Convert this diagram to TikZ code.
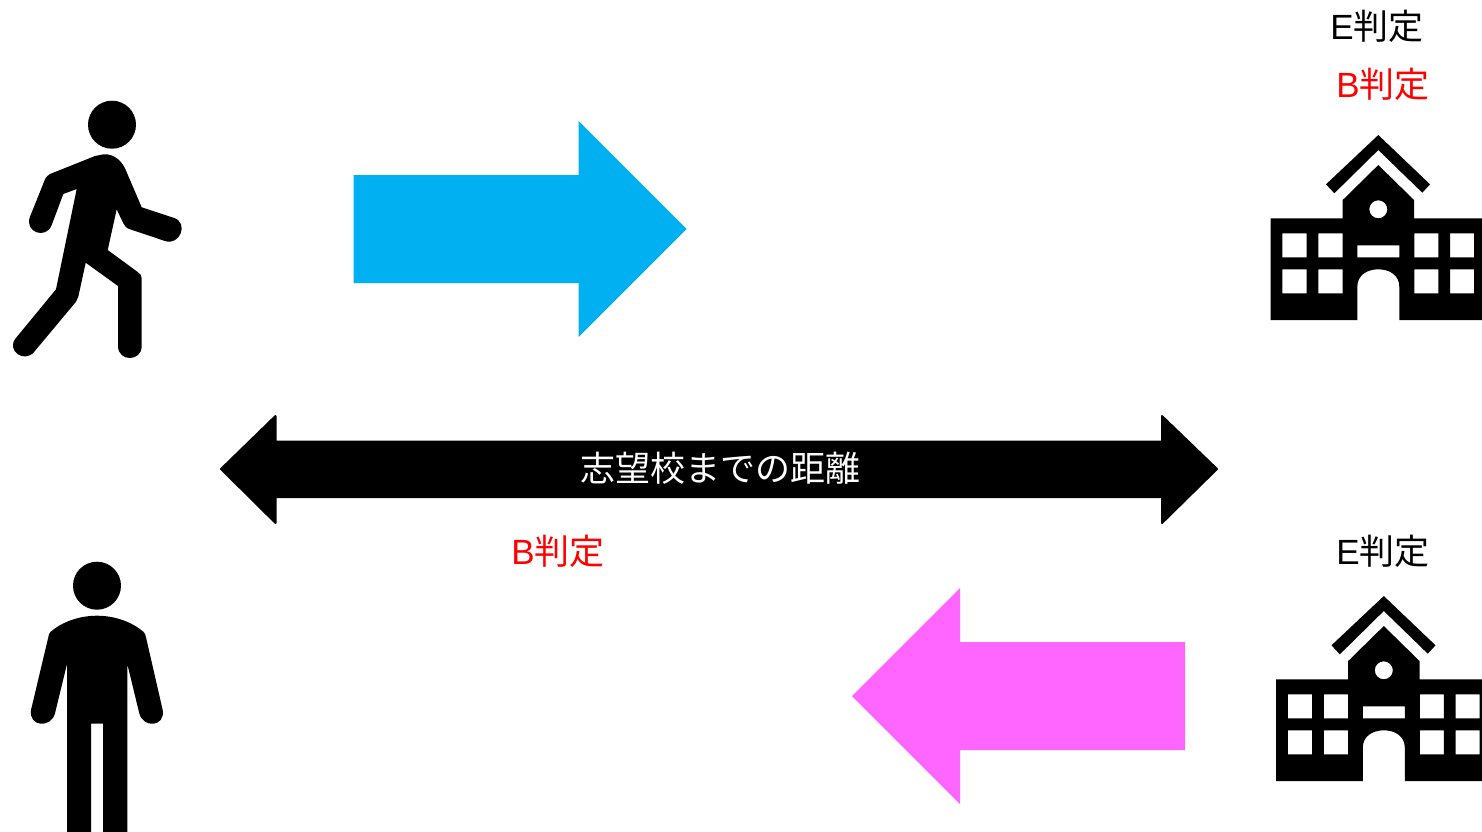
\documentclass[tikz,border=0pt]{standalone}
\usepackage{fontspec}
\usepackage{xcolor}
\usepackage{tikz}
\newfontfamily\jpfont{Noto Sans CJK JP}
\newfontfamily\latinfont{Liberation Sans}
\definecolor{arrowblue}{HTML}{00B0F0}
\definecolor{arrowpink}{HTML}{FF66FF}
\tikzset{
  glyph/.style={fill=black,draw=none},
  hantei/.style={inner sep=0pt,font=\jpfont\fontsize{17.5}{19}\selectfont},
  school/.pic={
    \fill[glyph] (0,-185) -- (51.7,-135.7) -- (44,-127.3) -- (0,-170) -- (-44,-126.7) -- (-52.3,-135.7) -- cycle;
    \fill[glyph,even odd rule]
      (0,-155) -- (35.7,-120) -- (35.7,-101.7) -- (108,-101.7) -- (108,0) -- (21,0) -- (21,-33.3)
      .. controls (21,-45) and (11,-50.7) .. (0,-50.7) .. controls (-11,-50.7) and (-21,-45) .. (-21,-33.3)
      -- (-21,0) -- (-107.6,0) -- (-107.6,-101.7) -- (-35.6,-101.7) -- (-35.6,-120) -- cycle
      (0,-110.7) circle [radius=9]
      (-96,-86.7) rectangle (-71.6,-62.7) (-60,-86.7) rectangle (-35.6,-62.7)
      (-96,-50.7) rectangle (-71.6,-26.7) (-60,-50.7) rectangle (-35.6,-26.7)
      (36,-86.7) rectangle (60,-62.7) (71.7,-86.7) rectangle (95.7,-62.7)
      (36,-50.7) rectangle (60,-26.7) (71.7,-50.7) rectangle (95.7,-26.7)
      (-21,-74.7) rectangle (21,-62.7);
  }
}

\begin{document}
\begin{tikzpicture}[x=0.5pt,y=-0.5pt]
    \useasboundingbox (0,0) rectangle (1482,831);
    \clip (0,0) rectangle (1482,831);
    \fill[glyph] (112,124.7) circle [radius=24];
    \fill[glyph] (100,155) .. controls (110,152) and (120,158) .. (125,168.3) -- (141.7,207.3) -- (174,217.9)
      .. controls (189,223) and (180,246) .. (165,241) -- (130,229.3) .. controls (126,228) and (125,226) .. (123.3,223.3)
      -- (116.7,209.3) -- (107.7,250) -- (137.3,271.7) .. controls (140,274) and (141.7,275) .. (141.7,278.3)
      -- (141.7,346) .. controls (141.7,362) and (118,362) .. (118,346) -- (118,286) -- (85.7,262.7) -- (78.3,296.7)
      .. controls (78,299) and (77,300) .. (76,301.7) -- (34.3,351.7) .. controls (24,364) and (6,350) .. (15.7,338.3)
      -- (56,289.3) -- (76.7,189) -- (63.3,194) -- (51.7,225) .. controls (46,240) and (24,232) .. (30,216.7)
      -- (45,179.3) .. controls (46,177) and (48,175) .. (50,174) -- (95,156) -- cycle;
    \fill[glyph] (97,585.7) circle [radius=24];
    \fill[glyph] (97,615.7) .. controls (115,615.7) and (132,622) .. (143.3,631.7) .. controls (145,633) and (145.5,635) .. (146,637.3)
      -- (162.7,710) .. controls (165.5,727) and (143,728.5) .. (139.3,713.3) -- (127.3,664) -- (127.3,840) -- (103,840)
      -- (103,723.7) -- (91,723.7) -- (91,840) -- (67,840) -- (67,664) -- (55,713.3)
      .. controls (51,728.5) and (28.5,727) .. (31,710) -- (48.3,637.3) .. controls (48.8,635) and (49,633) .. (50.7,631.7)
      .. controls (62,622) and (79,615.7) .. (97,615.7) -- cycle;
    \fill[arrowblue] (353.5,175) -- (578.5,175) -- (578.5,121) -- (686.5,229) -- (578.5,337) -- (578.5,283) -- (353.5,283) -- cycle;
    \fill[arrowpink] (1185,642) -- (960,642) -- (960,588) -- (852,696) -- (960,804) -- (960,750) -- (1185,750) -- cycle;
    \filldraw[black,line width=1pt,line join=round] (221,469) -- (275.5,416) -- (275.5,441.5) -- (1162,441.5) -- (1162,416)
      -- (1217,469) -- (1162,523) -- (1162,497) -- (275.5,497) -- (275.5,523) -- cycle;
    \node[hantei,text=white] (kyori) at (720,468) {志望校までの距離};
    \node[hantei] (eupper) at (1377,26) {{\latinfont E}判定};
    \node[hantei,text=red] (bupper) at (1383,84) {{\latinfont B}判定};
    \node[hantei,text=red] (blower) at (558,551) {{\latinfont B}判定};
    \node[hantei] (elower) at (1383,551) {{\latinfont E}判定};
    \pic at (1378.3,320) {school};
    \pic at (1383.8,781) {school};
  \end{tikzpicture}
\end{document}
